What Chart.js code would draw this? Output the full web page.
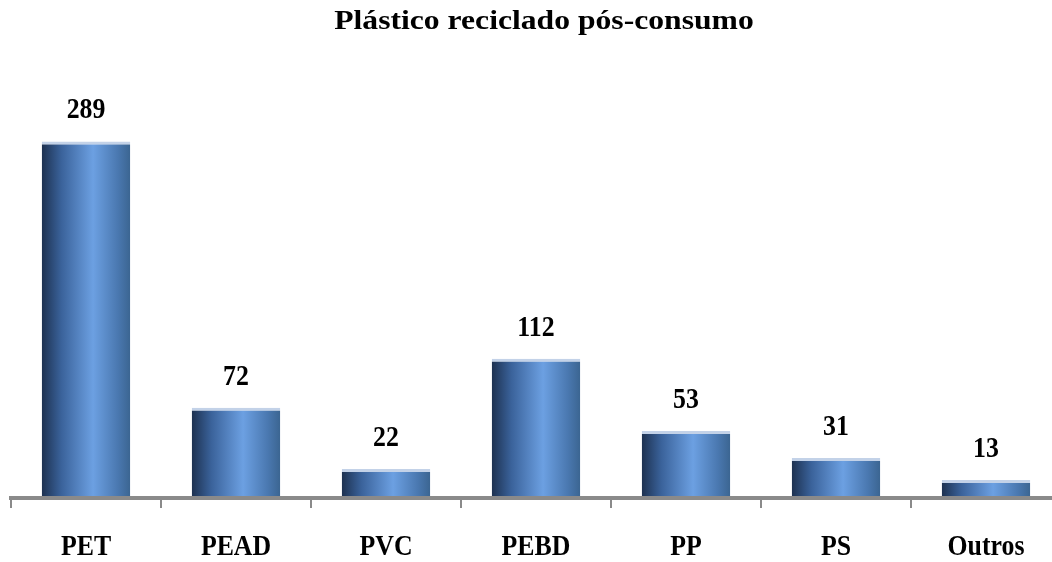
<!DOCTYPE html>
<html>
<head>
<meta charset="utf-8">
<script src="https://cdn.jsdelivr.net/npm/chart.js@4/dist/chart.umd.min.js"></script>
<style>
  html, body { margin: 0; padding: 0; background: #fff; overflow: hidden; }
  #wrap { position: relative; width: 1062px; height: 562px; }
  .probe { font-family: "Liberation Serif"; font-weight: bold; position: absolute; left: -999px; }
</style>
</head>
<body>
<span class="probe">PET 0123</span>
<div id="wrap"><canvas id="c" width="1062" height="562"></canvas></div>
<script>
// Recycled post-consumer plastic by resin type
const TITLE = 'Plástico reciclado pós-consumo';
const categories = ['PET', 'PEAD', 'PVC', 'PEBD', 'PP', 'PS', 'Outros'];
const values = [289, 72, 22, 112, 53, 31, 13];

const SERIF = '"Liberation Serif", "Times New Roman", Times, serif';

// Draws text squeezed or stretched horizontally around its anchor point
function drawScaledText(ctx, text, x, y, sx) {
  ctx.save();
  ctx.translate(x, y);
  ctx.scale(sx, 1);
  ctx.fillText(text, 0, 0);
  ctx.restore();
}

// Horizontal cylinder-like shading for each bar
function barGradient(context) {
  const chart = context.chart;
  if (!chart.chartArea) return '#4a7cc0';
  const xs = chart.scales.x;
  const cx = xs.getPixelForValue(context.dataIndex);
  const w = (xs.width / categories.length) * 0.59;
  const g = chart.ctx.createLinearGradient(cx - w / 2, 0, cx + w / 2, 0);
  g.addColorStop(0, '#1d3150');
  g.addColorStop(0.22, '#3a629a');
  g.addColorStop(0.58, '#6ca0e2');
  g.addColorStop(0.86, '#4a78b0');
  g.addColorStop(1, '#3b6591');
  return g;
}

const textPlugin = {
  id: 'barText',
  afterDatasetsDraw(chart) {
    const ctx = chart.ctx;
    const meta = chart.getDatasetMeta(0);
    const xs = chart.scales.x;
    ctx.save();
    ctx.fillStyle = '#000';
    ctx.textAlign = 'center';
    ctx.textBaseline = 'alphabetic';
    ctx.font = 'bold 30px ' + SERIF;
    meta.data.forEach((bar, i) => {
      drawScaledText(ctx, String(values[i]), bar.x, bar.y - 23, 0.86);
    });
    categories.forEach((c, i) => {
      drawScaledText(ctx, c, xs.getPixelForValue(i), 555, 0.86);
    });
    ctx.font = 'bold 28px ' + SERIF;
    drawScaledText(ctx, TITLE, 544, 29, 1.13);
    ctx.restore();
  }
};

function build() {
  new Chart(document.getElementById('c'), {
    type: 'bar',
    data: {
      labels: categories,
      datasets: [{
        data: values,
        backgroundColor: barGradient,
        borderColor: '#c3d2e8',
        borderWidth: { top: 3, left: 0, right: 0, bottom: 0 },
        borderSkipped: false,
        categoryPercentage: 1,
        barPercentage: 0.59
      }]
    },
    options: {
      responsive: false,
      animation: false,
      layout: { padding: { top: 128, left: 11, right: 1, bottom: 0 } },
      plugins: { legend: { display: false }, title: { display: false }, tooltip: { enabled: false } },
      scales: {
        // small negative floor keeps bar bases just above the thick axis line
        y: { display: false, min: -1.6, max: 300 },
        x: {
          afterFit(scale) { scale.height = 64; },
          border: { display: true, color: '#8a8a8a', width: 4 },
          grid: {
            offset: true,
            drawOnChartArea: false,
            drawTicks: true,
            tickLength: 10,
            color: '#8a8a8a',
            lineWidth: 2
          },
          ticks: { display: false }
        }
      }
    },
    plugins: [textPlugin]
  });
}

if (document.fonts && document.fonts.load) {
  Promise.all([
    document.fonts.load('bold 30px "Liberation Serif"'),
    document.fonts.load('bold 28px "Liberation Serif"')
  ]).then(build, build);
} else {
  build();
}
</script>
</body>
</html>
